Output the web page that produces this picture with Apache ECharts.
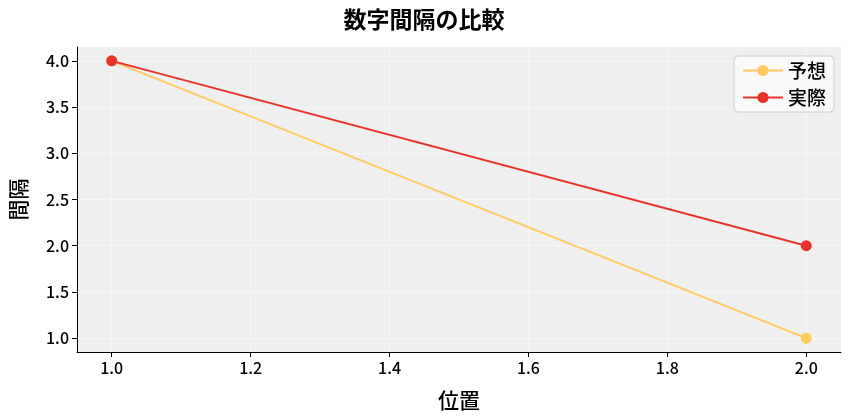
<!DOCTYPE html>
<html><head><meta charset="utf-8">
<script src="https://cdn.jsdelivr.net/npm/echarts@6/dist/echarts.min.js"></script>
<style>html,body{margin:0;padding:0;background:#fff}#c{width:848px;height:416px}</style>
</head><body><div id="c"></div>
<script>
const positions = [1.0, 2.0];
const expected = [4.0, 1.0];
const actual = [4.0, 2.0];
const xTicks = [1.0, 1.2, 1.4, 1.6, 1.8, 2.0];
const yTicks = [1.0, 1.5, 2.0, 2.5, 3.0, 3.5, 4.0];
const seriesNames = ['予想', '実際'];
const font = '"Noto Sans CJK JP", sans-serif';
const chart = echarts.init(document.getElementById('c'));
const axisCommon = {
  axisLine: {show: true, lineStyle: {color: '#000'}},
  axisTick: {show: true, length: 5, lineStyle: {color: '#000'}},
  axisLabel: {color: '#000', fontSize: 16, fontWeight: 500, fontFamily: font, formatter: v => v.toFixed(1)},
  splitLine: {show: true, lineStyle: {color: '#f6f6f6', width: 1}}
};
chart.setOption({
  backgroundColor: '#fff',
  title: {text: '数字間隔の比較', left: 'center', top: 3, textStyle: {fontSize: 23, fontWeight: 'bold', fontFamily: font, color: '#000'}},
  legend: {right: 14, top: 56, orient: 'vertical', itemWidth: 40, itemHeight: 14, itemGap: 8,
    textStyle: {fontSize: 19, fontWeight: 500, fontFamily: font, color: '#000'},
    backgroundColor: 'rgba(255,255,255,0.6)', borderColor: '#ccc', borderWidth: 1, borderRadius: 4, padding: [5, 8]},
  grid: {left: 68, right: 7, top: 47, bottom: 59, backgroundColor: '#efefef', show: true, borderWidth: 0},
  xAxis: Object.assign({type: 'value', min: 0.95, max: 2.05, name: '位置', nameLocation: 'middle', nameGap: 38,
    nameTextStyle: {fontSize: 21, fontWeight: 500, fontFamily: font, color: '#000'}}, axisCommon,
    {axisTick: Object.assign({}, axisCommon.axisTick, {customValues: xTicks}),
     axisLabel: Object.assign({}, axisCommon.axisLabel, {customValues: xTicks})}),
  yAxis: Object.assign({type: 'value', min: 0.85, max: 4.15, name: '間隔', nameLocation: 'middle', nameGap: 48,
    nameTextStyle: {fontSize: 21, fontWeight: 500, fontFamily: font, color: '#000'}}, axisCommon,
    {axisTick: Object.assign({}, axisCommon.axisTick, {customValues: yTicks}),
     axisLabel: Object.assign({}, axisCommon.axisLabel, {customValues: yTicks})}),
  series: [
    {name: seriesNames[0], type: 'line', data: positions.map((p, i) => [p, expected[i]]), color: '#ffc95e',
     symbol: 'circle', symbolSize: 11, lineStyle: {width: 2}},
    {name: seriesNames[1], type: 'line', data: positions.map((p, i) => [p, actual[i]]), color: '#e8332a',
     symbol: 'circle', symbolSize: 11, lineStyle: {width: 2}}
  ]
});
</script></body></html>
